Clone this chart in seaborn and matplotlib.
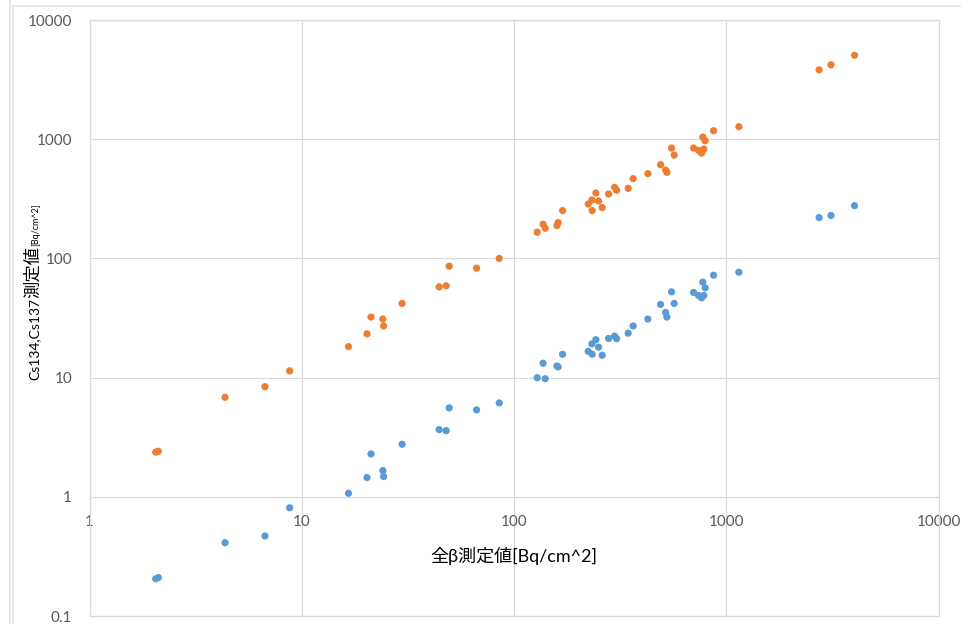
import matplotlib
matplotlib.use("Agg")
import matplotlib.pyplot as plt
import seaborn as sns
import pandas as pd
from matplotlib.patches import Rectangle
from matplotlib.lines import Line2D
from matplotlib.ticker import FixedLocator, FixedFormatter, NullLocator

# ---- data ----
beta_values = [2.05, 2.11, 4.35, 6.71, 8.77, 16.6, 20.3, 21.2, 24.1, 24.3,
               29.7, 44.4, 47.9, 49.5, 66.6, 85.2, 128.6, 137.1, 140.3, 159.3,
               161.4, 169.4, 223.7, 232.8, 233.6, 243.1, 250.3, 260.3, 279.0, 297.8,
               304.3, 345.1, 364.3, 427.3, 490.3, 517.7, 525.1, 552.6, 568.4, 701.5,
               740.5, 764.9, 784.3, 775.9, 795.4, 871.4, 1146.7, 2739, 3116, 4021]
series_orange = [2.37, 2.41, 6.84, 8.39, 11.4, 18.2, 23.3, 32.2, 31.0, 27.1,
                 41.9, 57.7, 58.9, 86.0, 82.8, 99.8, 165.8, 193.4, 179.0, 188.6,
                 199.8, 251.8, 286.0, 309.0, 251.8, 353.7, 303.0, 266.9, 347.0, 394.8,
                 372.6, 387.2, 466.9, 514.1, 611.5, 551.1, 527.2, 842.4, 736.0, 842.4,
                 805.8, 764.8, 826.3, 1041, 971.4, 1178, 1273, 3820, 4207, 5062]
series_blue = [0.205, 0.21, 0.412, 0.469, 0.809, 1.07, 1.45, 2.29, 1.66, 1.48,
               2.76, 3.66, 3.59, 5.57, 5.36, 6.13, 9.98, 13.2, 9.79, 12.5,
               12.3, 15.7, 16.6, 19.2, 15.7, 20.8, 18.0, 15.4, 21.3, 22.3,
               21.2, 23.6, 27.1, 31.0, 41.1, 35.2, 32.2, 52.4, 41.9, 51.8,
               48.9, 46.7, 48.9, 63.2, 56.6, 72.3, 76.6, 220, 229, 277]
series_names = ["Cs134+Cs137", "Cs137"]
x_ticks = [1, 10, 100, 1000, 10000]
x_tick_labels = ["1", "10", "100", "1000", "10000"]
y_ticks = [0.1, 1, 10, 100, 1000, 10000]
y_tick_labels = ["0.1", "1", "10", "100", "1000", "10000"]
x_title = "全β測定値[Bq/cm^2]"
y_title_parts = ["Cs134,Cs137", "測定値", "[Bq/cm^2]"]

df = pd.DataFrame({
    "x": beta_values * 2,
    "y": series_orange + series_blue,
    "series": [series_names[0]] * len(series_orange) + [series_names[1]] * len(series_blue),
})

sns.set_theme(style="white")
fam = ["Lato", "Noto Sans CJK JP", "DejaVu Sans"]
plt.rcParams["font.family"] = fam

W, H = 961, 624
fig = plt.figure(figsize=(W / 100, H / 100), dpi=100)
fig.patch.set_facecolor("white")

ax = fig.add_axes([89.5 / W, 8 / H, 849 / W, 596 / H])
ax.set_xscale("log")
ax.set_yscale("log")

sns.scatterplot(data=df, x="x", y="y", hue="series",
                palette={series_names[0]: "#ED7D31", series_names[1]: "#5B9BD5"},
                s=27, linewidth=0, legend=False, ax=ax, zorder=3)

ax.set_xlim(1, 10000)
ax.set_ylim(0.1, 10000)
ax.xaxis.set_major_locator(FixedLocator(x_ticks))
ax.xaxis.set_major_formatter(FixedFormatter(x_tick_labels))
ax.yaxis.set_major_locator(FixedLocator(y_ticks))
ax.yaxis.set_major_formatter(FixedFormatter(y_tick_labels))
ax.xaxis.set_minor_locator(NullLocator())
ax.yaxis.set_minor_locator(NullLocator())

grid_c = "#d9d9d9"
ax.grid(True, which="major", color=grid_c, linewidth=0.8)
ax.set_axisbelow(True)
for s in ["left", "right", "top"]:
    ax.spines[s].set_visible(False)
ax.spines["bottom"].set_position(("data", 1))
ax.spines["bottom"].set_color(grid_c)
ax.spines["bottom"].set_linewidth(0.8)

ax.tick_params(axis="x", length=0, pad=13, labelsize=11, labelcolor="#595959")
ax.tick_params(axis="y", length=0, pad=12.5, labelsize=11, labelcolor="#595959")
ax.set_xlabel("")
ax.set_ylabel("")

ax.add_patch(Rectangle((0, 0), 1, 1, transform=ax.transAxes, fill=False,
                       edgecolor=grid_c, linewidth=0.9, clip_on=False, zorder=1))

# x axis title
fig.text(514 / W, 1 - 556 / H, x_title, ha="center", va="center",
         fontsize=13, color="black", family=fam)

# y axis title with mixed sizes
fig.canvas.draw()
r = fig.canvas.get_renderer()
ypos = 1 - 380 / H
for txt, size in zip(y_title_parts, [10, 12.5, 6.5]):
    t = fig.text(38.5 / W, ypos, txt, rotation=90, rotation_mode="anchor",
                 ha="left", va="baseline", fontsize=size, color="black", family=fam)
    bb = t.get_window_extent(r)
    ypos = bb.y1 / H

# outer frame lines of the screenshot
fig.add_artist(Line2D([9.5 / W, 9.5 / W], [0, 1], transform=fig.transFigure,
                      color="#e3e3e3", linewidth=1.2))
fig.add_artist(Line2D([12.5 / W, 12.5 / W], [0, 1 - 5.5 / H], transform=fig.transFigure,
                      color="#e3e3e3", linewidth=1.2))
fig.add_artist(Line2D([12.5 / W, 1], [1 - 5.5 / H, 1 - 5.5 / H], transform=fig.transFigure,
                      color="#e3e3e3", linewidth=1.2))

fig.savefig("out.png", dpi=100, facecolor="white")
